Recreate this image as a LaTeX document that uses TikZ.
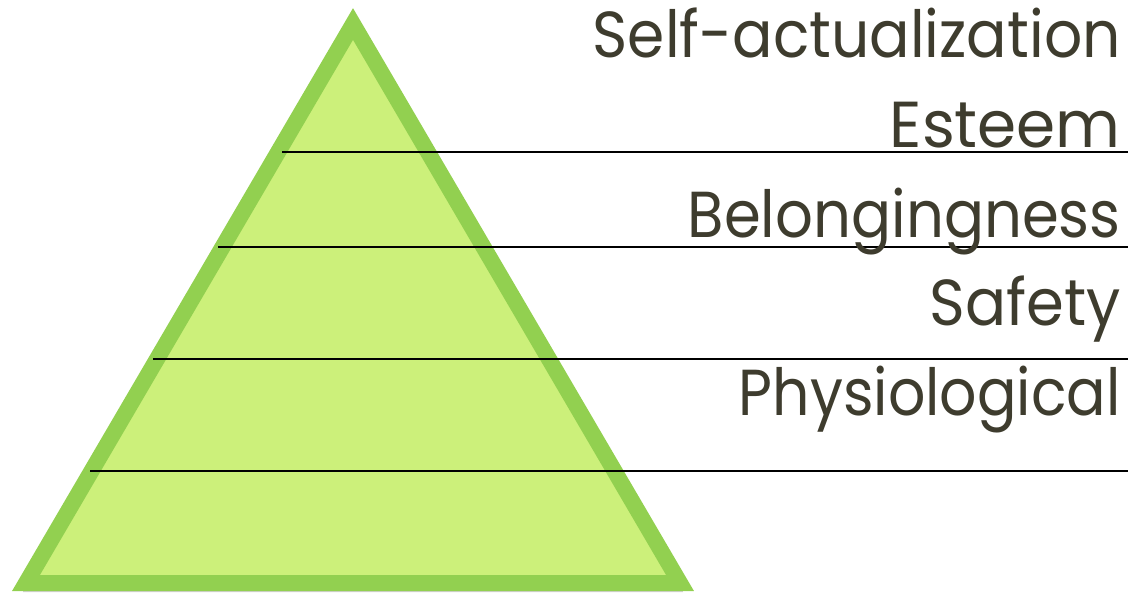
\documentclass[tikz,border=0pt]{standalone}
\usepackage{fontspec}
\usepackage{graphicx}
\newfontfamily\lblfont{Poppins}
\definecolor{pyrline}{RGB}{146,208,80}
\definecolor{pyrfill}{RGB}{204,240,122}
\definecolor{txt}{RGB}{62,60,46}
\tikzset{
  lbl/.style={anchor=base east, inner sep=0pt, text=txt, font=\lblfont\fontsize{65}{65}\selectfont},
  tier/.style={draw=black, line width=1.6pt},
}
\newcommand{\fitw}[2]{\resizebox{#1}{\height}{#2}}
\begin{document}
\begin{tikzpicture}[x=1pt,y=-1pt]
\useasboundingbox (0,0) rectangle (1128,594);
% shadow
\fill[black!18] (24,587) -- (682,587) -- (683,592) -- (23,592) -- cycle;
% pyramid
\coordinate (apex) at (353,24);
\coordinate (bl) at (26,583);
\coordinate (br) at (680,583);
\draw[pyrline, fill=pyrfill, line width=16pt, line join=miter] (apex) -- (br) -- (bl) -- cycle;
% tier lines
\coordinate (l1) at (282,152); \coordinate (r1) at (1128,152);
\coordinate (l2) at (218,247); \coordinate (r2) at (1128,247);
\coordinate (l3) at (153,359); \coordinate (r3) at (1128,359);
\coordinate (l4) at (90,471);  \coordinate (r4) at (1128,471);
\draw[tier] (l1) -- (r1);
\draw[tier] (l2) -- (r2);
\draw[tier] (l3) -- (r3);
\draw[tier] (l4) -- (r4);
% labels
\node[lbl] (t1) at (1121,58) {\fitw{528pt}{Self-actualization}};
\node[lbl] (t2) at (1121,147) {\fitw{231pt}{Esteem}};
\node[lbl] (t3) at (1121,237) {\fitw{433pt}{Belongingness}};
\node[lbl] (t4) at (1121,325) {\fitw{191pt}{Safety}};
\node[lbl] (t5) at (1121,415) {\fitw{382pt}{Physiological}};
\end{tikzpicture}
\end{document}
